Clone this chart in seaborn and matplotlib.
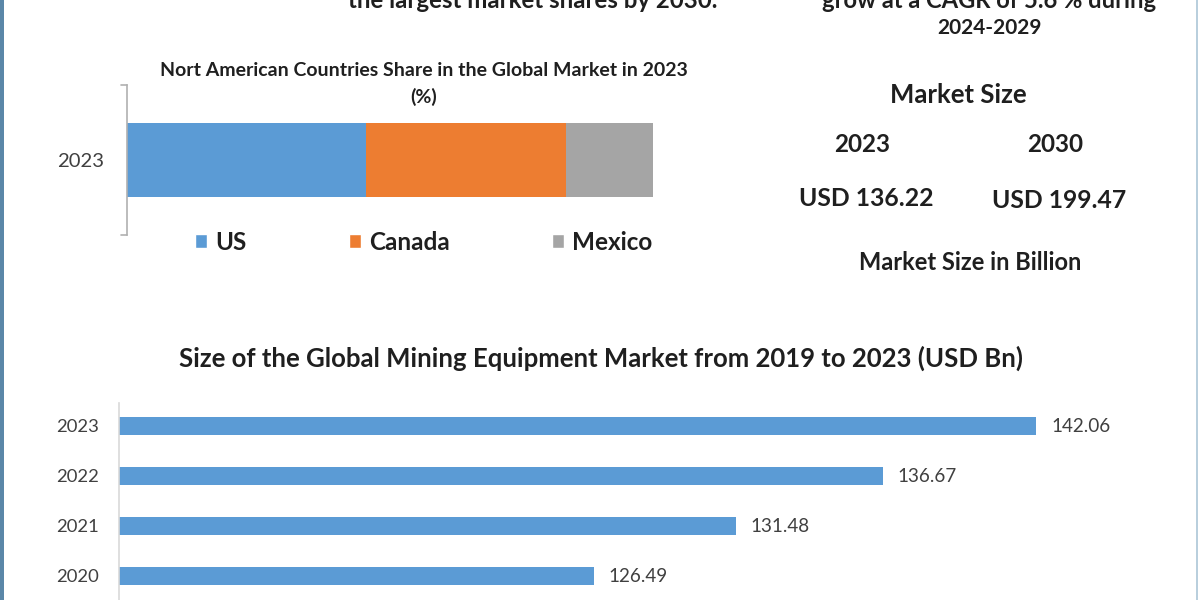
#!/usr/bin/env python3
import matplotlib
matplotlib.use('Agg')
import matplotlib.pyplot as plt
import pandas as pd
import seaborn as sns
from matplotlib.patches import Patch, Rectangle

W, H = 1200, 600

# 上の積み上げ棒
share_year = ['2023']
countries = ['US', 'Canada', 'Mexico']
share_values = [45.4, 38.0, 16.6]
share_colors = ['#5B9BD5', '#ED7D31', '#A5A5A5']

# 下の横棒
years = ['2023', '2022', '2021', '2020']
market_size = [142.06, 136.67, 131.48, 126.49]
bar_color = '#5B9BD5'

sns.set_theme(style='white')
plt.rcParams['font.family'] = ['Lato', 'DejaVu Sans']

DARK = '#1f1f1f'
GREY = '#404040'
AXIS = '#b0b0b0'

fig = plt.figure(figsize=(W / 100, H / 100), dpi=100, facecolor='white')


def add_axes_px(left, top, right, bottom):
    return fig.add_axes([left / W, 1 - bottom / H, (right - left) / W, (bottom - top) / H])


def px_text(x, y, s, size, weight='bold', color=DARK):
    fig.text(x / W, 1 - y / H, s, fontsize=size, fontweight=weight, color=color,
             ha='center', va='center')


# 積み上げ棒 (累積の大きい順に重ねる)
ax1 = add_axes_px(127, 85, 653, 235)
cumulative = pd.Series(share_values).cumsum().tolist()
for total, color in reversed(list(zip(cumulative, share_colors))):
    df = pd.DataFrame({'year': share_year, 'value': [total]})
    sns.barplot(data=df, x='value', y='year', color=color, saturation=1,
                width=0.5, ax=ax1, orient='y', linewidth=0)
ax1.set_xlim(0, sum(share_values))
ax1.set_xlabel('')
ax1.set_ylabel('')
ax1.set_xticks([])
ax1.tick_params(axis='y', length=0, pad=16.5, labelsize=14.6, labelcolor=GREY)
sns.despine(ax=ax1, top=True, right=True, bottom=True)
ax1.spines['left'].set_color(AXIS)
ax1.spines['left'].set_linewidth(1.2)
for y in (85, 235):
    fig.add_artist(plt.Line2D([121 / W, 127 / W], [1 - y / H, 1 - y / H], color=AXIS, lw=1.2))

handles = [Patch(facecolor=c, label=n) for c, n in zip(share_colors, countries)]
fig.legend(handles=handles, ncol=3, frameon=False, loc='center',
           bbox_to_anchor=(423.5 / W, 1 - 242 / H), prop={'size': 17.5, 'weight': 'bold'},
           labelcolor=DARK, handlelength=0.5, handleheight=0.5, handletextpad=0.33,
           columnspacing=4.2)

# 市場規模の横棒
ax2 = add_axes_px(119, 403, 1200, 600)
df2 = pd.DataFrame({'year': years, 'size': market_size})
sns.barplot(data=df2, x='size', y='year', color=bar_color, saturation=1,
            width=0.37, ax=ax2, orient='y', linewidth=0)
ax2.set_xlim(109.77, 147.83)
ax2.set_ylim(3.48, -0.46)
ax2.set_xlabel('')
ax2.set_ylabel('')
ax2.set_xticks([])
ax2.tick_params(axis='y', length=0, pad=14.5, labelsize=13.3, labelcolor=GREY)
for label in ax2.bar_label(ax2.containers[0], fmt='%.2f', padding=10.7, fontsize=13.6, color=GREY):
    label.set_va('center')
sns.despine(ax=ax2, top=True, right=True, bottom=True)
ax2.spines['left'].set_color('#d9d9d9')
ax2.spines['left'].set_linewidth(1.2)

# テキスト
px_text(533, 0, 'the largest market shares by 2030.', 17.3)
px_text(989, 0, 'grow at a CAGR of 5.6 % during', 17.1)
px_text(989, 28, '2024-2029', 15)
px_text(424, 70, 'Nort American Countries Share in the Global Market in 2023', 14)
px_text(424, 97, '(%)', 14)
px_text(958, 95, 'Market Size', 18.5)
px_text(862, 145, '2023', 17.5)
px_text(1055, 145, '2030', 17.5)
px_text(866, 199, 'USD 136.22', 17.8)
px_text(1059, 201, 'USD 199.47', 17.8)
px_text(970, 263, 'Market Size in Billion', 17)
px_text(601, 358, 'Size of the Global Mining Equipment Market from 2019 to 2023 (USD Bn)', 18.5)

# 外枠
fig.add_artist(Rectangle((0, 0), 4 / W, 1, transform=fig.transFigure, facecolor='#5b87a8', edgecolor='none'))
fig.add_artist(Rectangle((1196 / W, 0), 2 / W, 1, transform=fig.transFigure, facecolor='#b9cfdd', edgecolor='none'))

fig.savefig('out.png', dpi=100)
